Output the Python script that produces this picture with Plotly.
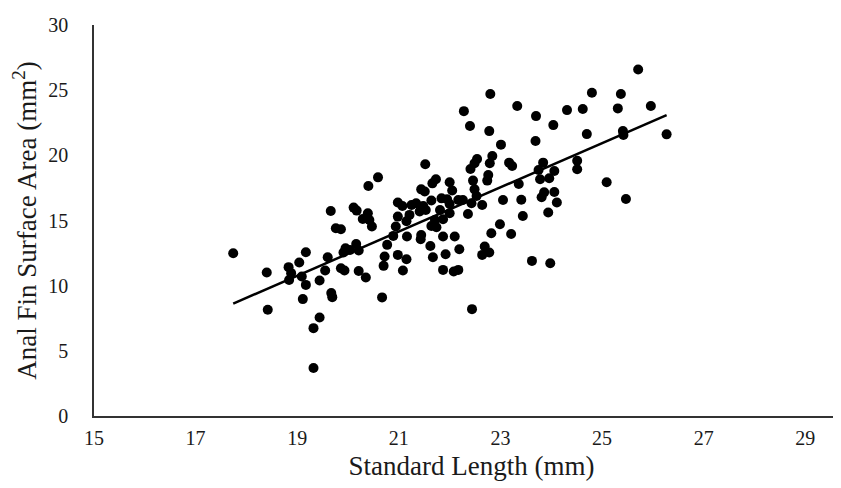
import numpy as np
import plotly.graph_objects as go

standard_length = [
    20.40, 19.66, 20.11, 20.17, 20.39, 20.29, 20.42,
    17.74, 18.40, 18.42, 18.83, 18.88, 18.84, 19.04, 19.17, 19.09, 19.17, 19.11,
    19.44, 19.55, 19.60, 19.76, 19.86, 19.67, 19.69, 19.44, 19.32, 19.32, 19.86,
    19.93, 19.91, 19.95, 20.04, 20.16, 20.21, 20.21, 20.35, 20.47,
    22.80, 23.33, 22.28, 22.40, 22.78, 23.01, 21.52, 20.59, 22.54, 22.49, 22.41,
    22.84, 22.79, 23.17, 23.23, 22.76, 22.74, 21.73, 21.66, 22.00, 22.46, 21.44,
    21.51, 22.05, 22.49, 22.53, 23.36, 20.98, 21.07, 21.25, 21.34, 21.48, 21.64,
    21.84, 21.95, 22.00, 22.17, 22.26, 22.43, 22.64, 23.05, 23.41, 20.98, 21.21,
    21.41, 21.53, 21.81, 22.00, 22.36, 21.71, 21.87, 22.99, 21.15,
    25.71, 24.80, 25.37, 23.70, 24.31, 24.62, 25.31, 25.96, 24.04, 24.70, 25.41,
    25.42, 26.27, 23.69, 23.84, 23.75, 23.78, 23.96, 24.06, 24.51, 24.51, 25.09,
    23.86, 23.81, 24.06, 24.11, 23.44, 23.94, 25.47,
    20.94, 20.89, 21.16, 20.77, 21.44, 21.43, 21.64, 21.74, 21.87, 22.10, 21.62,
    20.72, 20.98, 21.15, 21.67, 21.92, 22.19, 20.70, 21.08, 21.87, 22.08, 22.17,
    22.82, 23.21, 22.69, 22.64, 22.78, 20.67, 22.44, 23.62, 23.98,
]

fin_area = [
    17.65, 15.73, 15.99, 15.76, 15.56, 15.12, 15.04,
    12.49, 11.01, 8.15, 11.42, 10.96, 10.44, 11.78, 12.57, 10.70, 10.06, 8.97,
    10.40, 11.16, 12.18, 14.41, 14.33, 9.43, 9.12, 7.56, 6.74, 3.68, 11.34,
    11.16, 12.54, 12.87, 12.74, 13.20, 12.70, 11.13, 10.63, 14.54,
    24.70, 23.78, 23.39, 22.25, 21.86, 20.82, 19.31, 18.31, 19.72, 19.39, 18.95,
    19.95, 19.39, 19.44, 19.18, 18.49, 18.06, 18.16, 17.85, 17.93, 18.06, 17.39,
    17.22, 17.30, 17.39, 16.88, 17.80, 16.38, 16.11, 16.19, 16.32, 16.11, 16.53,
    16.70, 16.63, 16.27, 16.57, 16.57, 16.32, 16.19, 16.57, 16.59, 15.30, 15.43,
    15.69, 15.81, 15.81, 15.56, 15.50, 15.04, 15.10, 14.71, 14.94,
    26.59, 24.80, 24.70, 23.01, 23.47, 23.55, 23.60, 23.78, 22.32, 21.63, 21.86,
    21.56, 21.61, 21.10, 19.44, 18.87, 18.16, 18.24, 18.80, 19.59, 18.93, 17.93,
    17.16, 16.78, 17.19, 16.38, 15.35, 15.61, 16.65,
    14.54, 13.82, 13.77, 13.13, 13.89, 13.56, 14.58, 14.48, 13.77, 13.77, 13.05,
    12.24, 12.36, 12.03, 12.18, 12.41, 12.80, 11.52, 11.16, 11.21, 11.09, 11.21,
    14.02, 13.97, 13.00, 12.36, 12.54, 9.10, 8.20, 11.90, 11.72,
]

x_ticks = [15, 17, 19, 21, 23, 25, 27, 29]
y_ticks = [0, 5, 10, 15, 20, 25, 30]

x_arr = np.array(standard_length)
y_arr = np.array(fin_area)
slope, intercept = np.polyfit(x_arr, y_arr, 1)
trend_x = [x_arr.min(), x_arr.max()]
trend_y = [slope * v + intercept for v in trend_x]

font_family = "Liberation Serif, Times New Roman, serif"
text_color = "#1a1a1a"

fig = go.Figure()
fig.add_trace(go.Scatter(
    x=standard_length, y=fin_area, mode="markers",
    marker=dict(color="black", size=10, line=dict(width=0)),
    showlegend=False, hoverinfo="x+y",
))
fig.add_trace(go.Scatter(
    x=trend_x, y=trend_y, mode="lines",
    line=dict(color="black", width=2.5),
    showlegend=False, hoverinfo="skip",
))

fig.update_layout(
    width=841, height=488,
    margin=dict(l=86, r=0, t=17, b=80),
    paper_bgcolor="white", plot_bgcolor="white",
    font=dict(family=font_family, size=20, color=text_color),
    xaxis=dict(
        range=[15, 29.86], tickmode="array", tickvals=x_ticks,
        ticktext=[str(t) for t in x_ticks],
        showgrid=False, zeroline=False, showline=True,
        linecolor="#333333", linewidth=1.5, ticks="", ticklen=0,
        ticklabelstandoff=3,
        tickfont=dict(size=20, family=font_family, color=text_color),
        title=dict(text="Standard Length (mm)", standoff=8,
                   font=dict(size=27, family=font_family, color=text_color)),
    ),
    yaxis=dict(
        range=[0, 30], tickmode="array", tickvals=y_ticks,
        ticktext=[str(t) for t in y_ticks],
        showgrid=False, zeroline=False, showline=True,
        linecolor="#333333", linewidth=1.5, ticks="", ticklen=0,
        ticklabelstandoff=20,
        tickfont=dict(size=20, family=font_family, color=text_color),
        title=dict(text="Anal Fin Surface Area (mm<sup>2</sup>)", standoff=8,
                   font=dict(size=27, family=font_family, color=text_color)),
    ),
)

fig.write_html("out.html")
